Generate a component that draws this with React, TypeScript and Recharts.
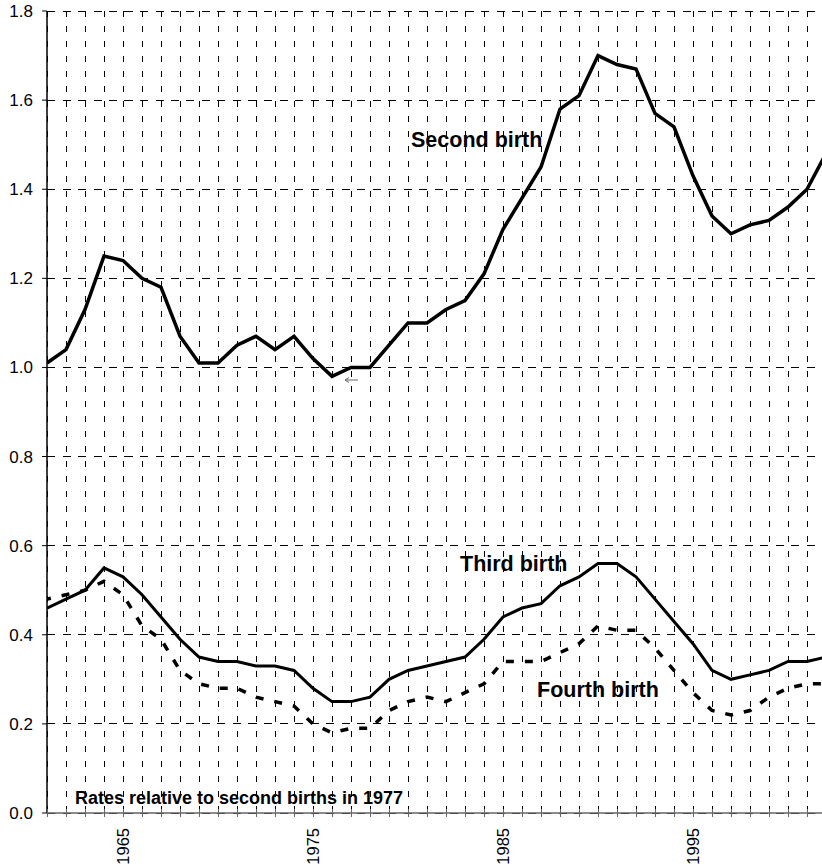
import React from 'react';
import { LineChart, Line, XAxis, YAxis, CartesianGrid, Customized } from 'recharts';

// years 1961-2002, one point per year
const years = [
  1961, 1962, 1963, 1964, 1965, 1966, 1967, 1968, 1969, 1970,
  1971, 1972, 1973, 1974, 1975, 1976, 1977, 1978, 1979, 1980,
  1981, 1982, 1983, 1984, 1985, 1986, 1987, 1988, 1989, 1990,
  1991, 1992, 1993, 1994, 1995, 1996, 1997, 1998, 1999, 2000,
  2001, 2002,
];

const secondBirth = [
  1.01, 1.04, 1.13, 1.25, 1.24, 1.2, 1.18, 1.07, 1.01, 1.01,
  1.05, 1.07, 1.04, 1.07, 1.02, 0.98, 1.0, 1.0, 1.05, 1.1,
  1.1, 1.13, 1.15, 1.21, 1.31, 1.38, 1.45, 1.58, 1.61, 1.7,
  1.68, 1.67, 1.57, 1.54, 1.43, 1.34, 1.3, 1.32, 1.33, 1.36,
  1.4, 1.48,
];

const thirdBirth = [
  0.46, 0.48, 0.5, 0.55, 0.53, 0.49, 0.44, 0.39, 0.35, 0.34,
  0.34, 0.33, 0.33, 0.32, 0.28, 0.25, 0.25, 0.26, 0.3, 0.32,
  0.33, 0.34, 0.35, 0.39, 0.44, 0.46, 0.47, 0.51, 0.53, 0.56,
  0.56, 0.53, 0.48, 0.43, 0.38, 0.32, 0.3, 0.31, 0.32, 0.34,
  0.34, 0.35,
];

const fourthBirth = [
  0.48, 0.49, 0.5, 0.52, 0.49, 0.42, 0.39, 0.32, 0.29, 0.28,
  0.28, 0.26, 0.25, 0.24, 0.2, 0.18, 0.19, 0.19, 0.23, 0.25,
  0.26, 0.25, 0.27, 0.29, 0.34, 0.34, 0.34, 0.36, 0.38, 0.42,
  0.41, 0.41, 0.37, 0.32, 0.27, 0.23, 0.22, 0.23, 0.26, 0.28,
  0.29, 0.29,
];

const xTicks = Array.from({ length: 44 }, (_, i) => 1961 + i);
const labelYears = [1965, 1975, 1985, 1995];
const yTicks = [0, 0.2, 0.4, 0.6, 0.8, 1.0, 1.2, 1.4, 1.6, 1.8];

const data = years.map((year, i) => ({
  year,
  second: secondBirth[i],
  third: thirdBirth[i],
  fourth: fourthBirth[i],
}));

const FONT = 'Arial, "Liberation Sans", sans-serif';

const XTick = (props: any) => {
  const { x, y, payload } = props;
  const show = labelYears.includes(payload.value);
  return (
    <g>
      <line x1={x} x2={x} y1={y - 4} y2={y + 4} stroke="#666" strokeWidth={1} shapeRendering="crispEdges" />
      {show && (
        <text
          transform={`translate(${x + 6},${y + 15}) rotate(-90)`}
          textAnchor="end"
          fontSize={16.5}
          fontFamily={FONT}
          fill="#000"
        >
          {payload.value}
        </text>
      )}
    </g>
  );
};

const Annotations = () => (
  <g fontFamily={FONT} fontWeight="bold" fill="#000">
    <text x={411} y={147} fontSize={21.5}>Second birth</text>
    <text x={460} y={571} fontSize={21.5}>Third birth</text>
    <text x={537} y={697} fontSize={21.5}>Fourth birth</text>
    <text x={75} y={804} fontSize={18}>Rates relative to second births in 1977</text>
    <path d="M345 380 L358 380 M345 380 L349 377.5 M345 380 L349 382.5" stroke="#666" strokeWidth={1} fill="none" />
  </g>
);

export default function App() {
  return (
    <div style={{ position: 'absolute', left: 0, top: 0, width: 822, height: 868, overflow: 'hidden', background: '#fff' }}>
      <style>{'.recharts-cartesian-grid line { shape-rendering: crispEdges; }'}</style>
      <LineChart width={864} height={868} data={data} margin={{ top: 11, right: 0, bottom: 0, left: 0 }}>
        <CartesianGrid horizontal vertical={false} stroke="#000" strokeDasharray="8 7.5" />
        <CartesianGrid horizontal={false} vertical stroke="#000" strokeDasharray="6 9" />
        <XAxis
          dataKey="year"
          type="number"
          domain={[1961, 2004]}
          ticks={xTicks}
          interval={0}
          height={55}
          tickSize={0}
          tickMargin={0}
          tick={<XTick />}
          axisLine={{ stroke: '#666', strokeWidth: 1.5 }}
          tickLine={false}
          allowDataOverflow
        />
        <YAxis
          type="number"
          domain={[0, 1.8]}
          ticks={yTicks}
          interval={0}
          width={47}
          tickSize={5}
          tickMargin={9}
          tickFormatter={(v: number) => v.toFixed(1)}
          tick={{ fill: '#000', fontSize: 17, fontFamily: FONT }}
          axisLine={{ stroke: '#000', strokeWidth: 1.5 }}
          tickLine={{ stroke: '#000' }}
        />
        <Line type="linear" dataKey="second" stroke="#000" strokeWidth={3.5} dot={false} isAnimationActive={false} />
        <Line type="linear" dataKey="third" stroke="#000" strokeWidth={3} dot={false} isAnimationActive={false} />
        <Line
          type="linear"
          dataKey="fourth"
          stroke="#000"
          strokeWidth={3.5}
          strokeDasharray="8 11"
          strokeDashoffset={4}
          dot={false}
          isAnimationActive={false}
        />
        <Customized component={Annotations} />
      </LineChart>
    </div>
  );
}
